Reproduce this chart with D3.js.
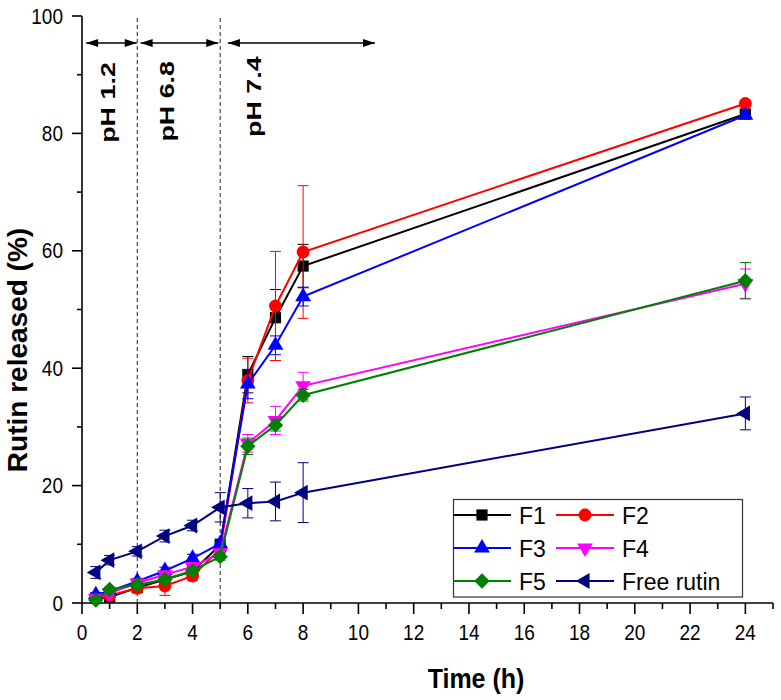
<!DOCTYPE html>
<html>
<head>
<meta charset="utf-8">
<script src="https://cdnjs.cloudflare.com/ajax/libs/d3/7.8.5/d3.min.js"></script>
<style>
  body { margin: 0; background: #fff; }
  svg { display: block; font-family: "Liberation Sans", Arial, sans-serif; }
</style>
</head>
<body>
<div id="chart"></div>
<script>
// release time points (h)
const time = [0.5, 1, 2, 3, 4, 5, 6, 7, 8, 24];

// cumulative release (%) and error (sd) per formulation
const f1 = [0.8, 1.0, 2.6, 4.0, 5.4, 9.9, 38.9, 48.6, 57.4, 83.3];
const f1Err = [0.3, 0.5, 0.5, 0.6, 0.6, 0.8, 3.1, 4.8, 3.7, 0.5];
const f2 = [0.7, 1.3, 2.5, 2.9, 4.6, 9.2, 37.9, 50.6, 59.8, 85.1];
const f2Err = [0.3, 0.5, 0.6, 1.6, 0.8, 1.0, 3.8, 9.3, 11.3, 0.5];
const f3 = [1.4, 2.0, 3.7, 5.5, 7.6, 10.1, 37.3, 43.9, 52.2, 83.1];
const f3Err = [0.4, 0.4, 0.5, 0.6, 0.7, 0.8, 2.5, 1.6, 1.6, 0.6];
const f4 = [0.8, 1.7, 3.4, 4.8, 6.2, 8.5, 27.2, 31.1, 37.0, 54.4];
const f4Err = [0.3, 0.4, 0.5, 0.5, 0.6, 0.7, 1.5, 2.4, 2.3, 2.5];
const f5 = [0.5, 2.3, 3.1, 4.0, 5.5, 7.9, 26.7, 30.3, 35.4, 54.9];
const f5Err = [0.3, 0.4, 0.5, 0.5, 0.5, 0.6, 1.4, 1.0, 1.0, 3.1];
const freeRutin = [5.2, 7.3, 8.8, 11.4, 13.2, 16.3, 17.0, 17.3, 18.8, 32.3];
const freeRutinErr = [1.0, 0.8, 0.8, 1.0, 0.9, 2.5, 2.5, 3.3, 5.1, 2.8];

const seriesNames = ["F1", "F2", "F3", "F4", "F5", "Free rutin"];

// pH phases: boundaries (h) and arrow spans (h)
const phaseBounds = [2, 5];
const phaseLabels = ["pH 1.2", "pH 6.8", "pH 7.4"];
const phaseArrowFrom = [0.15, 2.12, 5.28];
const phaseArrowTo = [1.98, 4.93, 10.6];

const xTicks = d3.range(0, 25, 2);
const yTicks = d3.range(0, 101, 20);

const width = 781, height = 700;
const margin = { top: 16, right: 8, bottom: 97, left: 82 };

const svg = d3.select("#chart").append("svg")
  .attr("width", width).attr("height", height);

const x = d3.scaleLinear().domain([0, 25]).range([margin.left, width - margin.right]);
const y = d3.scaleLinear().domain([0, 100]).range([height - margin.bottom, margin.top]);

// symbol helpers
const sym = (type, size) => d3.symbol().type(type).size(size)();
const styles = [
  { color: "#000000", shape: sym(d3.symbolSquare, 125), rot: 0 },
  { color: "#ff0000", shape: sym(d3.symbolCircle, 130), rot: 0 },
  { color: "#0000ff", shape: sym(d3.symbolTriangle, 108), rot: 0 },
  { color: "#ff00ff", shape: sym(d3.symbolTriangle, 108), rot: 180 },
  { color: "#008000", shape: sym(d3.symbolSquare, 118), rot: 45 },
  { color: "#000080", shape: sym(d3.symbolTriangle, 108), rot: -90 }
];

const values = [f1, f2, f3, f4, f5, freeRutin];
const errors = [f1Err, f2Err, f3Err, f4Err, f5Err, freeRutinErr];

const series = seriesNames.map((name, i) => ({
  name,
  style: styles[i],
  points: time.map((t, j) => ({ t, v: values[i][j], e: errors[i][j] }))
}));

// phase separators
svg.append("g").selectAll("line").data(phaseBounds).join("line")
  .attr("x1", d => x(d)).attr("x2", d => x(d))
  .attr("y1", y(0)).attr("y2", y(100) + 2)
  .attr("stroke", "#333").attr("stroke-width", 1.1)
  .attr("stroke-dasharray", "4,3");

// arrows
const defs = svg.append("defs");
defs.append("marker")
  .attr("id", "head")
  .attr("viewBox", "0 0 12 8")
  .attr("refX", 12).attr("refY", 4)
  .attr("markerWidth", 13).attr("markerHeight", 8)
  .attr("markerUnits", "userSpaceOnUse")
  .attr("orient", "auto-start-reverse")
  .append("path").attr("d", "M0,0L12,4L0,8Z").attr("fill", "#000");

const arrowY = y(95.4);
svg.append("g").selectAll("line").data(phaseLabels).join("line")
  .attr("x1", (d, i) => x(phaseArrowFrom[i]))
  .attr("x2", (d, i) => x(phaseArrowTo[i]))
  .attr("y1", arrowY).attr("y2", arrowY)
  .attr("stroke", "#000").attr("stroke-width", 1.3)
  .attr("marker-start", "url(#head)")
  .attr("marker-end", "url(#head)");

// phase labels (rotated, slightly stretched along the text)
const labelPos = [[1.21, 78.4], [3.33, 78.6], [6.48, 79.4]];
svg.append("g").selectAll("text").data(phaseLabels).join("text")
  .attr("transform", (d, i) => `translate(${x(labelPos[i][0])},${y(labelPos[i][1])}) rotate(-90) scale(1.28,1)`)
  .attr("font-size", 21).attr("font-weight", "bold")
  .text(d => d);

// axes
const axisG = svg.append("g").attr("stroke", "#000").attr("stroke-width", 1.6);
axisG.append("line").attr("x1", x(0) - 0.8).attr("x2", x(25)).attr("y1", y(0)).attr("y2", y(0));
axisG.append("line").attr("x1", x(0)).attr("x2", x(0)).attr("y1", y(0)).attr("y2", y(100));

// x ticks
axisG.selectAll(".xt").data(d3.range(0, 26)).join("line")
  .attr("x1", d => x(d)).attr("x2", d => x(d))
  .attr("y1", y(0)).attr("y2", d => y(0) + (d % 2 === 0 && d <= 24 ? 11 : 6));
// y ticks
axisG.selectAll(".yt").data(d3.range(0, 101, 10)).join("line")
  .attr("y1", d => y(d)).attr("y2", d => y(d))
  .attr("x1", x(0)).attr("x2", d => x(0) - (d % 20 === 0 ? 10 : 5));

svg.append("g").selectAll("text").data(xTicks).join("text")
  .attr("transform", d => `translate(${x(d)},640) scale(1,1.15)`)
  .attr("text-anchor", "middle").attr("font-size", 19)
  .text(d => d);

svg.append("g").selectAll("text").data(yTicks).join("text")
  .attr("transform", d => `translate(63,${y(d) + 7.5}) scale(1,1.15)`)
  .attr("text-anchor", "end").attr("font-size", 19)
  .text(d => d);

// axis titles
svg.append("text")
  .attr("transform", `translate(27,350) rotate(-90)`)
  .attr("text-anchor", "middle").attr("font-size", 28).attr("font-weight", "bold")
  .text("Rutin released (%)");

svg.append("text")
  .attr("transform", "translate(476,688) scale(1,1.1)")
  .attr("text-anchor", "middle").attr("font-size", 25).attr("font-weight", "bold")
  .text("Time (h)");

// series
const line = d3.line().x(d => x(d.t)).y(d => y(d.v));
const capW = 5.5;

series.forEach(s => {
  const g = svg.append("g");
  const c = s.style.color;
  const eb = g.append("g").attr("stroke", c).attr("stroke-width", 1);
  eb.selectAll(".bar").data(s.points).join("line")
    .attr("x1", d => x(d.t)).attr("x2", d => x(d.t))
    .attr("y1", d => y(d.v - d.e)).attr("y2", d => y(d.v + d.e));
  eb.selectAll(".capHi").data(s.points).join("line")
    .attr("x1", d => x(d.t) - capW).attr("x2", d => x(d.t) + capW)
    .attr("y1", d => y(d.v + d.e)).attr("y2", d => y(d.v + d.e));
  eb.selectAll(".capLo").data(s.points).join("line")
    .attr("x1", d => x(d.t) - capW).attr("x2", d => x(d.t) + capW)
    .attr("y1", d => y(d.v - d.e)).attr("y2", d => y(d.v - d.e));

  g.append("path").datum(s.points)
    .attr("d", line).attr("fill", "none")
    .attr("stroke", c).attr("stroke-width", 2);

  g.selectAll(".mk").data(s.points).join("path")
    .attr("d", s.style.shape)
    .attr("transform", d => `translate(${x(d.t)},${y(d.v)}) rotate(${s.style.rot})`)
    .attr("fill", c);
});

// legend
const lg = svg.append("g");
lg.append("rect")
  .attr("x", 453.5).attr("y", 499.5).attr("width", 289).attr("height", 97.5)
  .attr("fill", "#fff").attr("stroke", "#333").attr("stroke-width", 1.2);

const colX = [453, 556];
const rowY = [515, 548, 581];
series.forEach((s, i) => {
  const cx = colX[i % 2], cy = rowY[Math.floor(i / 2)];
  const item = lg.append("g").attr("transform", `translate(${cx},${cy})`);
  item.append("line").attr("x1", 0).attr("x2", 58).attr("y1", 0).attr("y2", 0)
    .attr("stroke", s.style.color).attr("stroke-width", 2);
  item.append("path").attr("d", s.style.shape)
    .attr("transform", `translate(29,0) rotate(${s.style.rot})`)
    .attr("fill", s.style.color);
  item.append("text").attr("transform", "translate(66,8.5) scale(1,1.08)")
    .attr("font-size", 23).text(s.name);
});
</script>
</body>
</html>
